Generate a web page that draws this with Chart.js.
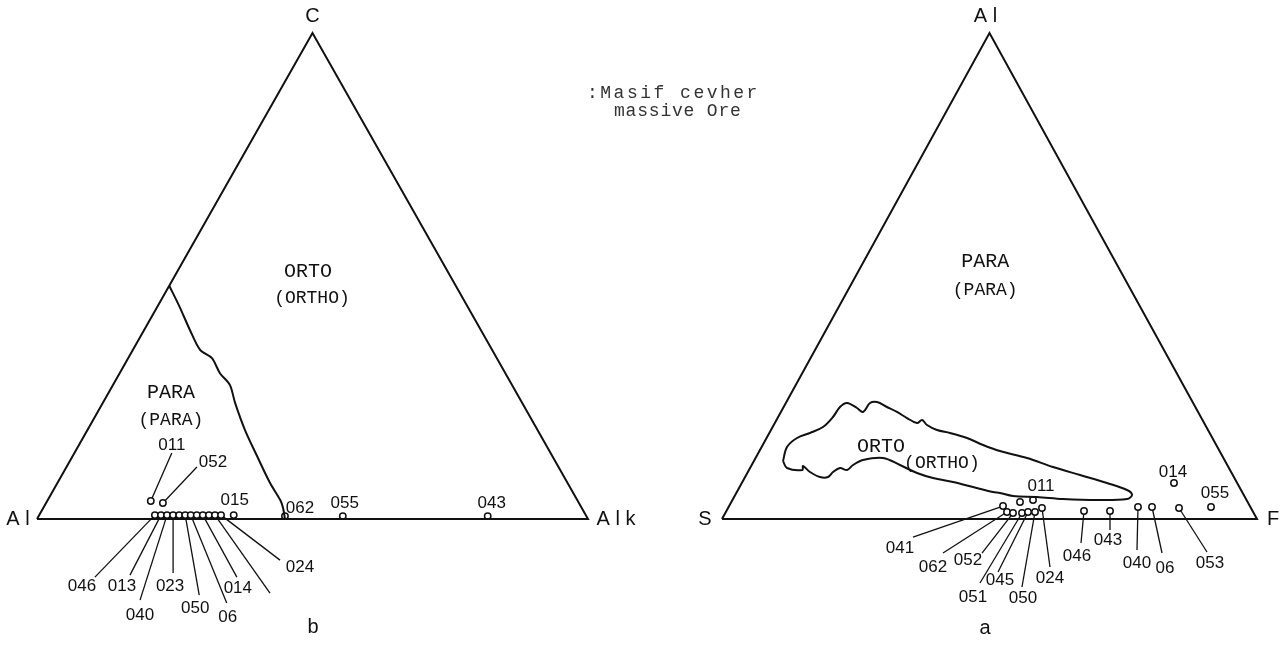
<!DOCTYPE html>
<html>
<head>
<meta charset="utf-8">
<script src="https://cdn.jsdelivr.net/npm/chart.js@4.4.0/dist/chart.umd.min.js"></script>
<style>
  html, body { margin: 0; background: #fff; }
  #wrap { position: relative; width: 1286px; height: 646px; }
</style>
</head>
<body>
<div id="wrap"><canvas id="ternary" width="1286" height="646"></canvas></div>
<script>
// --- b: C - Al - Alk diyagramı (yüzde) ---
const leftNames = ['011', '052', '046', '013', '040', '023', '', '050', '06', '', '014', '', '', '024', '015', '062', '055', '043'];
const leftAlk   = [18.8, 21.2, 21.0, 22.1, 23.2, 24.3, 25.4, 26.5, 27.5, 28.6, 29.7, 30.8, 31.9, 33.0, 35.3, 44.7, 55.2, 81.5];
const leftC     = [3.7, 3.3, 0.8, 0.8, 0.8, 0.8, 0.8, 0.8, 0.8, 0.8, 0.8, 0.8, 0.8, 0.8, 0.8, 0.6, 0.6, 0.6];

// PARA / ORTO sınırı (Alk, C)
const leftBorderAlk = [0, 4.1, 8.3, 12.2, 15.2, 18.2, 21.2, 24.0, 28.6, 33.6, 38.6, 42.2, 43.5, 45.0];
const leftBorderC   = [48.0, 43.6, 38.9, 34.8, 33.1, 30.0, 27.6, 23.9, 18.3, 12.8, 7.4, 3.9, 2.3, 0];

// --- a: Al - S - F diyagramı (yüzde) ---
const rightNames = ['011', '', '041', '062', '052', '051', '045', '050', '024', '046', '043', '040', '06', '053', '014', '055'];
const rightF     = [53.95, 56.18, 51.19, 52.55, 53.78, 55.46, 56.48, 57.78, 58.68, 66.84, 71.70, 76.52, 79.14, 84.29, 80.78, 90.17];
const rightAl    = [3.50, 3.91, 2.67, 1.44, 1.23, 1.23, 1.44, 1.44, 2.26, 1.65, 1.65, 2.47, 2.47, 2.26, 7.41, 2.47];

// ORTO alanı sınırı (F, Al)
const orthoF  = [5.44, 4.74, 5.69, 7.60, 9.41, 10.25, 10.53, 11.43, 13.81, 15.35, 15.73, 16.94, 19.31, 21.70, 24.19, 26.58, 27.20, 28.65,
                 31.03, 33.77, 37.46, 41.18, 44.97, 50.74, 56.52, 62.40, 68.26, 72.72, 74.17, 73.64, 68.14, 61.68, 56.62, 52.03,
                 49.29, 47.87, 43.63, 39.38, 35.22, 31.72, 27.72, 23.82, 20.29, 18.94, 18.32, 16.82, 15.92, 15.49, 14.00, 11.62,
                 9.69, 9.98, 6.91, 5.44];
const orthoAl = [11.93, 14.81, 16.67, 17.70, 18.93, 20.99, 23.05, 23.87, 22.84, 22.02, 23.87, 24.07, 23.05, 22.02, 20.78, 19.75, 20.37, 19.34,
                 18.31, 17.70, 16.67, 15.23, 13.99, 12.55, 10.70, 9.05, 7.41, 5.97, 4.94, 4.12, 3.91, 4.12, 4.53, 4.73,
                 5.35, 5.56, 6.58, 7.61, 8.44, 9.47, 11.11, 12.55, 12.14, 11.11, 10.08, 10.49, 9.67, 8.64, 8.64, 9.67,
                 10.91, 10.08, 10.49, 11.93];

// --- yerleşim: etiket ve kılavuz çizgisi kaymaları (piksel) ---
const leftLabelOff = [[21,-56],[50,-41],[-73,71],[-39,71],[-27,100],[-3,71],null,[10,93],[37,102],null,[35,73],null,null,[79,52],[1,-15],[15,-8],[2,-13],[4,-13]];
const leftLeadOff  = [[21,-48],[34,-36],[-60,62],[-31,60],[-27,85],[0,58],null,[14,80],[36,88],null,[34,62],null,[55,78],[59,45],null,null,null,null];
const rightLabelOff = [[21,-16],null,[-103,42],[-74,55],[-45,47],[-49,84],[-28,68],[-12,86],[8,70],[-7,45],[-2,29],[-1,56],[13,61],[31,55],[-1,-11],[4,-14]];
const rightLeadOff  = [null,null,[-90,31],[-64,41],[-31,40],[-42,70],[-30,60],[-13,75],[8,59],[-3,32],[0,19],[-1,43],[10,46],[28,44],null,null];

const MONO = '"Liberation Mono", "DejaVu Sans Mono", monospace';
const HAND = '"Liberation Sans", Arial, sans-serif';

// bölge yazıları (grafik koordinatları)
const leftTexts = [
  { t: 'ORTO', x: 49.2, y: 50.8, font: '20px ' + MONO },
  { t: '(ORTHO)', x: 49.9, y: 45.5, font: '18px ' + MONO },
  { t: 'PARA', x: 24.3, y: 25.9, font: '20px ' + MONO },
  { t: '(PARA)', x: 24.3, y: 20.4, font: '18px ' + MONO },
];
const rightTexts = [
  { t: 'PARA', x: 49.2, y: 52.9, font: '20px ' + MONO },
  { t: '(PARA)', x: 49.2, y: 47.1, font: '18px ' + MONO },
  { t: 'ORTO', x: 29.7, y: 14.8, font: '20px ' + MONO },
  { t: '(ORTHO)', x: 41.1, y: 11.5, font: '18px ' + MONO },
];

// üçgen koordinatı: alt kenar boyunca konum + yükseklik
function tern(k, c) {
  return { x: k + c / 2, y: c };
}

const triangle = [tern(0, 0), tern(100, 0), tern(0, 100), tern(0, 0)];

function lineSet(data, xID, yID, width, tension) {
  return {
    data: data, xAxisID: xID, yAxisID: yID, showLine: true,
    borderColor: '#111', borderWidth: width, pointRadius: 0,
    tension: tension || 0, fill: false,
  };
}

function pointSet(data, xID, yID) {
  return {
    data: data, xAxisID: xID, yAxisID: yID, showLine: false,
    pointStyle: 'circle', pointRadius: 3.2,
    backgroundColor: '#fff', borderColor: '#111', borderWidth: 1.5,
  };
}

const leftPts = leftAlk.map((k, i) => tern(k, leftC[i]));
const rightPts = rightF.map((f, i) => tern(f, rightAl[i]));
const leftBorder = leftBorderAlk.map((k, i) => tern(k, leftBorderC[i]));
const orthoLine = orthoF.map((f, i) => tern(f, orthoAl[i]));

function drawSide(chart, ctx, xID, yID, pts, names, labOff, leadOff, leadersOnly) {
  const sx = chart.scales[xID], sy = chart.scales[yID];
  pts.forEach((p, i) => {
    const X = sx.getPixelForValue(p.x), Y = sy.getPixelForValue(p.y);
    if (leadersOnly) {
      const l = leadOff[i];
      if (!l) return;
      ctx.beginPath();
      ctx.moveTo(X, Y);
      ctx.lineTo(X + l[0], Y + l[1]);
      ctx.stroke();
    } else {
      const o = labOff[i];
      if (!o || !names[i]) return;
      ctx.fillText(names[i], X + o[0], Y + o[1]);
    }
  });
}

const textPlugin = {
  id: 'ternaryTexts',
  beforeDatasetsDraw(chart) {
    const ctx = chart.ctx;
    ctx.save();
    ctx.strokeStyle = '#111';
    ctx.lineWidth = 1.3;
    drawSide(chart, ctx, 'xL', 'yL', leftPts, leftNames, leftLabelOff, leftLeadOff, true);
    drawSide(chart, ctx, 'xR', 'yR', rightPts, rightNames, rightLabelOff, rightLeadOff, true);
    ctx.restore();
  },
  afterDatasetsDraw(chart) {
    const ctx = chart.ctx;
    const s = chart.scales;
    ctx.save();
    ctx.fillStyle = '#111';
    ctx.textAlign = 'center';
    ctx.textBaseline = 'middle';

    // örnek numaraları
    ctx.font = '17px ' + HAND;
    drawSide(chart, ctx, 'xL', 'yL', leftPts, leftNames, leftLabelOff, leftLeadOff, false);
    drawSide(chart, ctx, 'xR', 'yR', rightPts, rightNames, rightLabelOff, rightLeadOff, false);

    // köşe adları
    ctx.font = '20px ' + HAND;
    const vtx = (xID, yID, p, t, dx, dy) => {
      ctx.fillText(t, s[xID].getPixelForValue(p.x) + dx, s[yID].getPixelForValue(p.y) + dy);
    };
    vtx('xL', 'yL', tern(0, 100), 'C', 0, -17);
    vtx('xL', 'yL', tern(0, 0), 'A l', -19, 0);
    vtx('xL', 'yL', tern(100, 0), 'A l k', 28, 0);
    vtx('xR', 'yR', tern(0, 100), 'A l', -4, -17);
    vtx('xR', 'yR', tern(0, 0), 'S', -17, 0);
    vtx('xR', 'yR', tern(100, 0), 'F', 16, 0);
    vtx('xL', 'yL', tern(0, 0), 'b', 276, 108);
    vtx('xR', 'yR', tern(0, 0), 'a', 263, 109);

    // bölge adları
    leftTexts.forEach(o => {
      ctx.font = o.font;
      ctx.fillText(o.t, s.xL.getPixelForValue(o.x), s.yL.getPixelForValue(o.y));
    });
    rightTexts.forEach(o => {
      ctx.font = o.font;
      ctx.fillText(o.t, s.xR.getPixelForValue(o.x), s.yR.getPixelForValue(o.y));
    });

    // açıklama
    ctx.fillStyle = '#333';
    ctx.textAlign = 'left';
    ctx.font = '18px ' + MONO;
    ctx.letterSpacing = '2.5px';
    ctx.fillText(':Masif cevher', 587, 93);
    ctx.letterSpacing = '0.8px';
    ctx.fillText('massive Ore', 614, 111);
    ctx.restore();
  }
};

const yRange = { min: -26.13, max: 106.79 };

new Chart(document.getElementById('ternary'), {
  type: 'scatter',
  data: {
    datasets: [
      lineSet(triangle, 'xL', 'yL', 2),
      lineSet(leftBorder, 'xL', 'yL', 2, 0.3),
      pointSet(leftPts, 'xL', 'yL'),
      lineSet(triangle, 'xR', 'yR', 2),
      lineSet(orthoLine, 'xR', 'yR', 2, 0.35),
      pointSet(rightPts, 'xR', 'yR'),
    ]
  },
  options: {
    responsive: false,
    animation: false,
    events: [],
    layout: { padding: 0, autoPadding: false },
    plugins: { legend: { display: false }, tooltip: { enabled: false } },
    scales: {
      xL: { type: 'linear', position: 'bottom', min: -6.715, max: 226.68, display: false },
      yL: { type: 'linear', position: 'left', min: yRange.min, max: yRange.max, display: false },
      xR: { type: 'linear', position: 'bottom', min: -134.95, max: 105.42, display: false },
      yR: { type: 'linear', position: 'left', min: yRange.min, max: yRange.max, display: false },
    }
  },
  plugins: [textPlugin]
});
</script>
</body>
</html>
